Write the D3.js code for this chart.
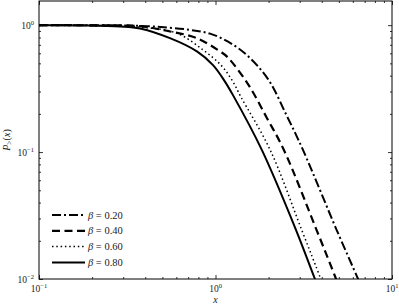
<!DOCTYPE html>
<html>
<head>
<meta charset="utf-8">
<script src="https://cdn.jsdelivr.net/npm/d3@7"></script>
<style>
  body { margin: 0; background: #fff; }
  svg { display: block; }
  text { font-family: "Liberation Serif", "DejaVu Serif", serif; fill: #222; }
</style>
</head>
<body>
<div id="chart"></div>
<script>
// dati (x, P>(x))
const betas = ["0.20", "0.40", "0.60", "0.80"];

const xB020 = [0.1, 0.288, 0.440, 0.717, 0.931, 1.178, 1.507, 1.984, 2.54, 3.13, 4.86, 6.42, 7.03];
const yB020 = [1.0, 0.995, 0.977, 0.918, 0.857, 0.741, 0.580, 0.376, 0.192, 0.104, 0.0243, 0.0100, 0.00735];

const xB040 = [0.1, 0.222, 0.373, 0.552, 0.785, 1.061, 1.162, 1.528, 1.958, 2.44, 3.74, 4.82, 5.27];
const yB040 = [1.0, 0.996, 0.982, 0.892, 0.790, 0.621, 0.565, 0.343, 0.185, 0.104, 0.0243, 0.0100, 0.0072];

const xB060 = [0.1, 0.222, 0.373, 0.603, 0.849, 1.074, 1.240, 1.395, 2.04, 3.08, 3.95, 4.33];
const yB060 = [1.0, 0.993, 0.964, 0.865, 0.639, 0.484, 0.369, 0.271, 0.104, 0.0243, 0.0100, 0.0071];

const xB080 = [0.1, 0.171, 0.288, 0.373, 0.552, 0.785, 0.968, 1.117, 1.256, 1.83, 2.86, 3.66, 4.09];
const yB080 = [1.0, 0.995, 0.977, 0.942, 0.790, 0.621, 0.484, 0.369, 0.281, 0.104, 0.0243, 0.0100, 0.0068];

const xMajor = [0.1, 1, 10];
const xMajorExp = ["\u22121", "0", "1"];
const yMajor = [0.01, 0.1, 1];
const yMajorExp = ["\u22122", "\u22121", "0"];

const series = [
    { beta: betas[0], xs: xB020, ys: yB020, dash: "9,3,2,3", w: 2 },
    { beta: betas[1], xs: xB040, ys: yB040, dash: "8,4.5", w: 2.2 },
    { beta: betas[2], xs: xB060, ys: yB060, dash: "1.5,2.8", w: 1.5 },
    { beta: betas[3], xs: xB080, ys: yB080, dash: null, w: 2 }
];

const W = 399, H = 306;
const margin = { top: 1, right: 7, bottom: 27, left: 39 };
const iw = W - margin.left - margin.right;
const ih = H - margin.top - margin.bottom;

const svg = d3.select("#chart").append("svg")
    .attr("width", W).attr("height", H);

const g = svg.append("g").attr("transform", `translate(${margin.left},${margin.top})`);

const x = d3.scaleLog().domain([0.1, 10]).range([0, iw]);
const y = d3.scaleLog().domain([0.01, 1.55]).range([ih, 0]);

// tick minori (2..9 per decade)
const minorX = [];
for (let e = -1; e < 1; e++) for (let m = 2; m <= 9; m++) minorX.push(m * Math.pow(10, e));
const minorY = [];
for (let e = -2; e < 1; e++) for (let m = 2; m <= 9; m++) {
    const v = m * Math.pow(10, e);
    if (v <= 1.55) minorY.push(v);
}

g.append("defs").append("clipPath").attr("id", "clip")
    .append("rect").attr("width", iw).attr("height", ih);

// curve
const line = d3.line()
    .x(d => x(d[0]))
    .y(d => y(d[1]))
    .curve(d3.curveCatmullRom.alpha(0.5));

series.forEach(s => {
    const pts = s.xs.map((v, i) => [v, s.ys[i]]);
    g.append("path")
        .datum(pts)
        .attr("clip-path", "url(#clip)")
        .attr("fill", "none")
        .attr("stroke", "#000")
        .attr("stroke-width", s.w)
        .attr("stroke-dasharray", s.dash)
        .attr("d", line);
});

// assi: tick verso l'interno su tutti e quattro i lati
function addAxis(axisFn, scale, vals, size, tf) {
    const a = g.append("g")
        .attr("transform", tf)
        .call(axisFn(scale).tickValues(vals).tickSize(size).tickFormat(""));
    a.select(".domain").remove();
    a.selectAll("line").attr("stroke", "#000").attr("stroke-width", 0.8);
    return a;
}
addAxis(d3.axisBottom, x, xMajor, -4, `translate(0,${ih})`);
addAxis(d3.axisBottom, x, minorX, -2, `translate(0,${ih})`);
addAxis(d3.axisTop, x, xMajor, -4, "translate(0,0)");
addAxis(d3.axisTop, x, minorX, -2, "translate(0,0)");
addAxis(d3.axisLeft, y, yMajor, -4, "translate(0,0)");
addAxis(d3.axisLeft, y, minorY, -2, "translate(0,0)");
addAxis(d3.axisRight, y, yMajor, -4, `translate(${iw},0)`);
addAxis(d3.axisRight, y, minorY, -2, `translate(${iw},0)`);

g.append("rect")
    .attr("width", iw).attr("height", ih)
    .attr("fill", "none").attr("stroke", "#000").attr("stroke-width", 1);

// etichette dei tick (10^n)
xMajor.forEach((v, i) => {
    const t = g.append("text")
        .attr("x", x(v)).attr("y", ih + 13)
        .attr("text-anchor", "middle")
        .style("font-size", "9.5px");
    t.append("tspan").text("10");
    t.append("tspan").attr("dy", -4).style("font-size", "6.5px").text(xMajorExp[i]);
});
yMajor.forEach((v, i) => {
    const t = g.append("text")
        .attr("x", -5).attr("y", y(v) + 4)
        .attr("text-anchor", "end")
        .style("font-size", "9.5px");
    t.append("tspan").text("10");
    t.append("tspan").attr("dy", -4).style("font-size", "6.5px").text(yMajorExp[i]);
});

// titoli assi
g.append("text")
    .attr("x", iw / 2).attr("y", ih + 24)
    .attr("text-anchor", "middle")
    .style("font-size", "10px").style("font-style", "italic")
    .text("x");

const yl = svg.append("text")
    .attr("transform", `translate(10,${margin.top + ih / 2}) rotate(-90)`)
    .attr("text-anchor", "middle")
    .style("font-size", "10px");
yl.append("tspan").style("font-style", "italic").text("P");
yl.append("tspan").attr("dy", 2).style("font-size", "7.5px").text(">");
yl.append("tspan").attr("dy", -2).text("(");
yl.append("tspan").style("font-style", "italic").text("x");
yl.append("tspan").text(")");

// legenda
const leg = g.append("g").attr("transform", "translate(13,214)");
series.forEach((s, i) => {
    const row = leg.append("g").attr("transform", `translate(0,${i * 15.8})`);
    row.append("line")
        .attr("x1", 0).attr("x2", 33)
        .attr("stroke", "#000")
        .attr("stroke-width", s.w)
        .attr("stroke-dasharray", s.dash);
    const t = row.append("text")
        .attr("x", 36).attr("y", 3.5)
        .style("font-size", "10.5px");
    t.append("tspan").style("font-style", "italic").text("\u03b2");
    t.append("tspan").text(" = " + s.beta);
});
</script>
</body>
</html>
